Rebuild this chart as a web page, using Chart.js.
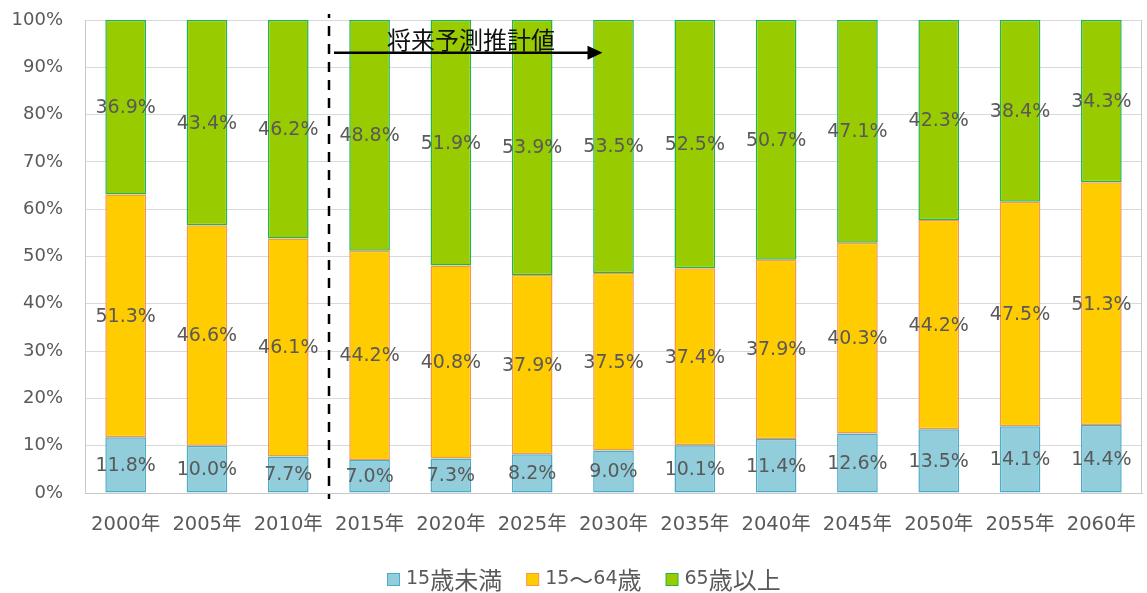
<!DOCTYPE html>
<html><head><meta charset="utf-8">
<script src="https://cdn.jsdelivr.net/npm/chart.js@4.4.0/dist/chart.umd.min.js"></script>
<style>html,body{margin:0;padding:0;background:#fff}#wrap{width:1147px;height:593px}</style>
</head><body><div id="wrap"><canvas id="c" width="1147" height="593"></canvas></div>
<script>
const categories = ["2000年","2005年","2010年","2015年","2020年","2025年","2030年","2035年","2040年","2045年","2050年","2055年","2060年"];
const under15 = [11.8,10.0,7.7,7.0,7.3,8.2,9.0,10.1,11.4,12.6,13.5,14.1,14.4];
const age15to64 = [51.3,46.6,46.1,44.2,40.8,37.9,37.5,37.4,37.9,40.3,44.2,47.5,51.3];
const over65 = [36.9,43.4,46.2,48.8,51.9,53.9,53.5,52.5,50.7,47.1,42.3,38.4,34.3];
const seriesNames = ["15歳未満","15～64歳","65歳以上"];
const yTicks = [0,10,20,30,40,50,60,70,80,90,100];
const forecastLabel = "将来予測推計値";

const LATIN = "'DejaVu Sans','Noto Sans CJK JP',sans-serif";
const CJK = "'Noto Sans CJK JP',sans-serif";
const fills = ["#92CDDC","#FFCC00","#99CC00"];
const borders = ["#4BACC6","#F79646","#22B54A"];

function runs(text){
  const out = []; let cur = "", curC = null;
  for (const ch of text){
    const c = ch.charCodeAt(0) > 255;
    if (curC === null || c === curC) { cur += ch; curC = c; }
    else { out.push([cur, curC]); cur = ch; curC = c; }
  }
  if (cur) out.push([cur, curC]);
  return out;
}
function drawMixed(ctx, text, x, y, ls, cs){
  ctx.textAlign = "left"; ctx.textBaseline = "middle";
  for (const [t,c] of runs(text)){
    ctx.font = c ? cs+"px "+CJK : ls+"px "+LATIN;
    ctx.fillText(t, x, y + (c ? 1 : 0));
    x += ctx.measureText(t).width;
  }
  return x;
}

const framePlugin = {
  id:'frame',
  beforeDatasetsDraw(chart){
    const ctx = chart.ctx, a = chart.chartArea;
    ctx.save();
    ctx.strokeStyle = "#C8C8C8"; ctx.lineWidth = 1;
    ctx.beginPath();
    ctx.moveTo(Math.round(a.right) - 0.5, a.top);
    ctx.lineTo(Math.round(a.right) - 0.5, a.bottom);
    ctx.stroke();
    ctx.restore();
  }
};

const labelPlugin = {
  id:'barLabels',
  afterDatasetsDraw(chart){
    const ctx = chart.ctx;
    ctx.save();
    ctx.font = "19px " + LATIN;
    ctx.fillStyle = "#595959";
    ctx.textAlign = "center";
    ctx.textBaseline = "middle";
    chart.data.datasets.forEach((ds, di) => {
      const meta = chart.getDatasetMeta(di);
      meta.data.forEach((bar, i) => {
        const p = bar.getProps(['x','y','base'], true);
        ctx.fillText(ds.data[i].toFixed(1) + "%", p.x, (p.y + p.base)/2 + 1);
      });
    });
    ctx.restore();
  }
};

const annoPlugin = {
  id:'forecast',
  afterDraw(chart){
    const ctx = chart.ctx, xs = chart.scales.x, ys = chart.scales.y;
    const xLine = Math.round((xs.getPixelForValue(2) + xs.getPixelForValue(3)) / 2);
    ctx.save();
    ctx.strokeStyle = "#000";
    ctx.lineWidth = 2.5;
    ctx.setLineDash([10,8]);
    ctx.lineDashOffset = 6;
    ctx.beginPath();
    ctx.moveTo(xLine, ys.top - 6);
    ctx.lineTo(xLine, ys.bottom + 6);
    ctx.stroke();
    ctx.setLineDash([]);
    const yA = ys.getPixelForValue(93.1);
    const xEnd = xs.getPixelForValue(6) - 11;
    ctx.beginPath();
    ctx.moveTo(xLine + 5, yA);
    ctx.lineTo(xEnd - 12, yA);
    ctx.stroke();
    ctx.fillStyle = "#000";
    ctx.beginPath();
    ctx.moveTo(xEnd, yA);
    ctx.lineTo(xEnd - 15, yA - 7);
    ctx.lineTo(xEnd - 15, yA + 7);
    ctx.closePath();
    ctx.fill();
    ctx.font = "24px " + CJK;
    ctx.fillStyle = "#111";
    ctx.textAlign = "center";
    ctx.textBaseline = "middle";
    ctx.fillText(forecastLabel, 471, ys.getPixelForValue(96.1) + 1);
    ctx.restore();
  }
};

const legendPlugin = {
  id:'customLegend',
  afterDraw(chart){
    const ctx = chart.ctx;
    ctx.save();
    let x = 387; const y = 579;
    chart.data.datasets.forEach((ds, i) => {
      ctx.fillStyle = ds.backgroundColor;
      ctx.fillRect(x + 0.5, y - 6 + 0.5, 12, 12);
      ctx.strokeStyle = ds.borderColor; ctx.lineWidth = 1;
      ctx.strokeRect(x + 0.5, y - 6 + 0.5, 12, 12);
      ctx.fillStyle = "#595959";
      const end = drawMixed(ctx, ds.label, x + 19, y, 19, 24);
      x = end + 24;
    });
    ctx.restore();
  }
};

new Chart(document.getElementById('c'), {
  type:'bar',
  data:{
    labels: categories,
    datasets: seriesNames.map((n, i) => ({
      label: n, data: [under15, age15to64, over65][i],
      backgroundColor: fills[i], borderColor: borders[i], borderWidth: 1.5, borderSkipped: false
    }))
  },
  options:{
    responsive:false,
    animation:false,
    devicePixelRatio:1,
    layout:{padding:{left:10,right:5,top:20,bottom:55}},
    datasets:{bar:{categoryPercentage:1.0, barPercentage:0.5}},
    plugins:{ legend:{display:false}, tooltip:{enabled:false} },
    scales:{
      x:{stacked:true, grid:{display:false, drawTicks:false}, border:{color:"#C8C8C8", width:1},
         ticks:{font:{size:19.5,family:LATIN}, color:"#595959", padding:20, maxRotation:0, autoSkip:false},
         afterFit(s){ s.height = 45; s.paddingLeft = 0; s.paddingRight = 0; }},
      y:{stacked:true, min:0, max:100, afterBuildTicks(s){ s.ticks = yTicks.map(v=>({value:v})); },
         grid:{color:"#D9D9D9", drawTicks:false}, border:{display:true,color:"#C8C8C8"},
         ticks:{font:{size:18,family:LATIN}, color:"#595959", padding:22, callback:v=>v+"%"},
         afterFit(s){ s.width = 75; s.paddingTop = 0; s.paddingBottom = 0; }}
    }
  },
  plugins:[framePlugin, labelPlugin, annoPlugin, legendPlugin]
});
</script></body></html>
